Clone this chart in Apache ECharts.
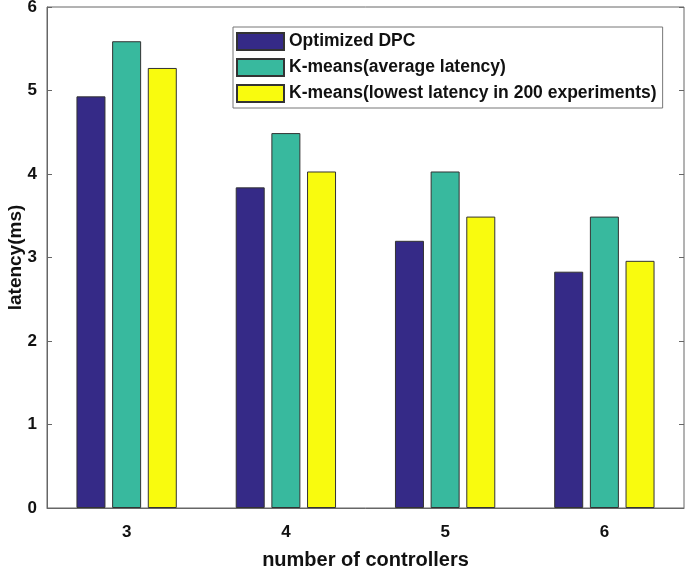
<!DOCTYPE html>
<html><head><meta charset="utf-8">
<script src="https://cdn.jsdelivr.net/npm/echarts@6/dist/echarts.min.js"></script>
<style>html,body{margin:0;padding:0;background:#fff}#c{width:685px;height:568px}</style>
</head><body><div id="c"></div>
<script>
var categories = ['3', '4', '5', '6'];
var seriesNames = ['Optimized DPC', 'K-means(average latency)', 'K-means(lowest latency in 200 experiments)'];
var dpc = [4.93, 3.84, 3.20, 2.83];
var kmeansAvg = [5.59, 4.49, 4.03, 3.49];
var kmeansLowest = [5.27, 4.03, 3.49, 2.96];
var yTicks = [0, 1, 2, 3, 4, 5, 6];
var colors = ['#352a87', '#38b99e', '#f9fb0e'];

var font = 'Liberation Sans, Arial, sans-serif';
var chart = echarts.init(document.getElementById('c'));
var values = [dpc, kmeansAvg, kmeansLowest];
chart.setOption({
  animation: false,
  grid: {left: 47, top: 7, right: 1, bottom: 60, show: true, borderColor: '#666', borderWidth: 1,
    containLabel: false, outerBoundsMode: 'none'},
  legend: {
    orient: 'vertical', left: 233, top: 27, itemWidth: 47, itemHeight: 17, itemGap: 7,
    padding: [5, 6, 5, 3], borderColor: '#777', borderWidth: 1, backgroundColor: '#fff',
    icon: 'rect',
    textStyle: {fontFamily: font, fontWeight: 'bold', fontSize: 17.5, color: '#111'},
    data: seriesNames
  },
  xAxis: [{
    type: 'category', data: categories,
    name: 'number of controllers', nameLocation: 'middle', nameGap: 42, nameMoveOverlap: false,
    nameTextStyle: {fontFamily: font, fontWeight: 'bold', fontSize: 20, color: '#111'},
    axisLine: {lineStyle: {color: '#666'}},
    axisTick: {inside: true, alignWithLabel: true, length: 5, lineStyle: {color: '#666'}},
    axisLabel: {fontFamily: font, fontWeight: 'bold', fontSize: 17, color: '#111', margin: 16}
  }, {
    type: 'category', data: categories, position: 'top',
    axisLine: {show: false}, axisLabel: {show: false},
    axisTick: {inside: true, alignWithLabel: true, length: 5, lineStyle: {color: '#666'}}
  }],
  yAxis: [{
    type: 'value', min: 0, max: 6, interval: 1,
    name: 'latency(ms)', nameLocation: 'middle', nameGap: 22, nameRotate: 90, nameMoveOverlap: false,
    nameTextStyle: {fontFamily: font, fontWeight: 'bold', fontSize: 19, color: '#111'},
    axisLine: {show: true, lineStyle: {color: '#666'}},
    axisTick: {show: true, inside: true, length: 5, lineStyle: {color: '#666'}},
    splitLine: {show: false},
    axisLabel: {fontFamily: font, fontWeight: 'bold', fontSize: 17, color: '#111', margin: 10,
      formatter: function (v) { return yTicks.indexOf(v) >= 0 ? String(v) : ''; }}
  }, {
    type: 'value', min: 0, max: 6, interval: 1, position: 'right',
    axisLine: {show: false}, axisLabel: {show: false}, splitLine: {show: false},
    axisTick: {show: true, inside: true, length: 5, lineStyle: {color: '#666'}}
  }],
  series: seriesNames.map(function (n, i) {
    return {
      name: n, type: 'bar', data: values[i], barWidth: 29, barGap: '23%',
      itemStyle: {color: colors[i], borderColor: '#333', borderWidth: 1}
    };
  })
});
</script></body></html>
